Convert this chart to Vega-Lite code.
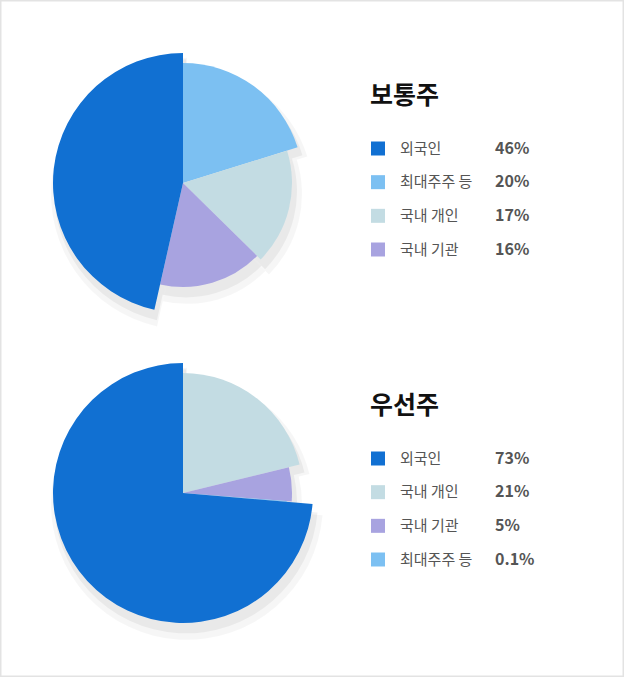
{
  "$schema": "https://vega.github.io/schema/vega-lite/v6.json",
  "width": 624,
  "height": 677,
  "autosize": {"type": "fit", "contains": "padding"},
  "padding": 0,
  "background": "white",
  "config": {
    "view": {"stroke": "#e3e3e3", "strokeWidth": 3},
    "font": "Noto Sans CJK KR"
  },
  "data": {
    "values": [
      {"stock": "보통주", "investor": "최대주주 등", "rank": 2, "share": 0.20},
      {"stock": "보통주", "investor": "국내 개인", "rank": 3, "share": 0.17},
      {"stock": "보통주", "investor": "국내 기관", "rank": 4, "share": 0.16},
      {"stock": "보통주", "investor": "외국인", "rank": 1, "share": 0.46},
      {"stock": "우선주", "investor": "국내 개인", "rank": 2, "share": 0.21},
      {"stock": "우선주", "investor": "국내 기관", "rank": 3, "share": 0.05},
      {"stock": "우선주", "investor": "최대주주 등", "rank": 4, "share": 0.001},
      {"stock": "우선주", "investor": "외국인", "rank": 1, "share": 0.73}
    ]
  },
  "transform": [
    {"stack": "share", "groupby": ["stock"], "offset": "normalize", "as": ["t0", "t1"]}
  ],
  "encoding": {
    "y": {
      "field": "stock", "type": "nominal", "axis": null,
      "scale": {"type": "band", "domain": ["보통주", "우선주"], "range": [28, 648], "paddingInner": 0, "paddingOuter": 0}
    },
    "color": {
      "field": "investor", "type": "nominal", "legend": null,
      "scale": {
        "domain": ["외국인", "최대주주 등", "국내 개인", "국내 기관"],
        "range": ["#1170d2", "#7cc0f2", "#c3dce3", "#a8a3e0"]
      }
    }
  },
  "layer": [
    {
      "mark": {"type": "arc", "radiusOffset": 6, "opacity": 0.035},
      "encoding": {
        "x": {"value": 187},
        "y": {"field": "stock", "type": "nominal", "bandPosition": 0.535},
        "theta": {"field": "t0", "type": "quantitative", "scale": {"domain": [0, 1]}},
        "theta2": {"field": "t1"},
        "radius": {
          "field": "rank", "type": "quantitative",
          "scale": {"type": "linear", "domain": [1, 2, 3, 4], "range": [130, 120, 109, 104], "zero": false}
        },
        "radius2": {"value": 0},
        "color": {"value": "#000000"}
      }
    },
    {
      "mark": {"type": "arc", "radiusOffset": 2, "opacity": 0.05},
      "encoding": {
        "x": {"value": 186},
        "y": {"field": "stock", "type": "nominal", "bandPosition": 0.527},
        "theta": {"field": "t0", "type": "quantitative", "scale": {"domain": [0, 1]}},
        "theta2": {"field": "t1"},
        "radius": {"field": "rank", "type": "quantitative"},
        "radius2": {"value": 0},
        "color": {"value": "#000000"}
      }
    },
    {
      "mark": {"type": "arc"},
      "encoding": {
        "x": {"value": 183},
        "theta": {"field": "t0", "type": "quantitative", "scale": {"domain": [0, 1]}},
        "theta2": {"field": "t1"},
        "radius": {"field": "rank", "type": "quantitative"},
        "radius2": {"value": 0}
      }
    },
    {
      "mark": {"type": "square", "size": 196, "opacity": 1},
      "encoding": {
        "x": {"value": 378},
        "yOffset": {"field": "rank", "type": "ordinal", "scale": {"type": "point", "range": [120.5, 221.5], "padding": 0}}
      }
    },
    {
      "mark": {"type": "text", "align": "left", "baseline": "middle", "fontSize": 15},
      "encoding": {
        "x": {"value": 400},
        "yOffset": {"field": "rank", "type": "ordinal"},
        "text": {"field": "investor"},
        "color": {"value": "#555555"}
      }
    },
    {
      "mark": {"type": "text", "align": "left", "baseline": "middle", "fontSize": 16, "fontWeight": 600},
      "encoding": {
        "x": {"value": 495},
        "yOffset": {"field": "rank", "type": "ordinal"},
        "text": {"field": "share", "format": "~%"},
        "color": {"value": "#555555"}
      }
    },
    {
      "transform": [{"filter": "datum.rank == 1"}],
      "mark": {"type": "text", "align": "left", "baseline": "alphabetic", "fontSize": 25, "fontWeight": "bold", "dy": -79},
      "encoding": {
        "x": {"value": 370},
        "text": {"field": "stock"},
        "color": {"value": "#111111"}
      }
    }
  ]
}
